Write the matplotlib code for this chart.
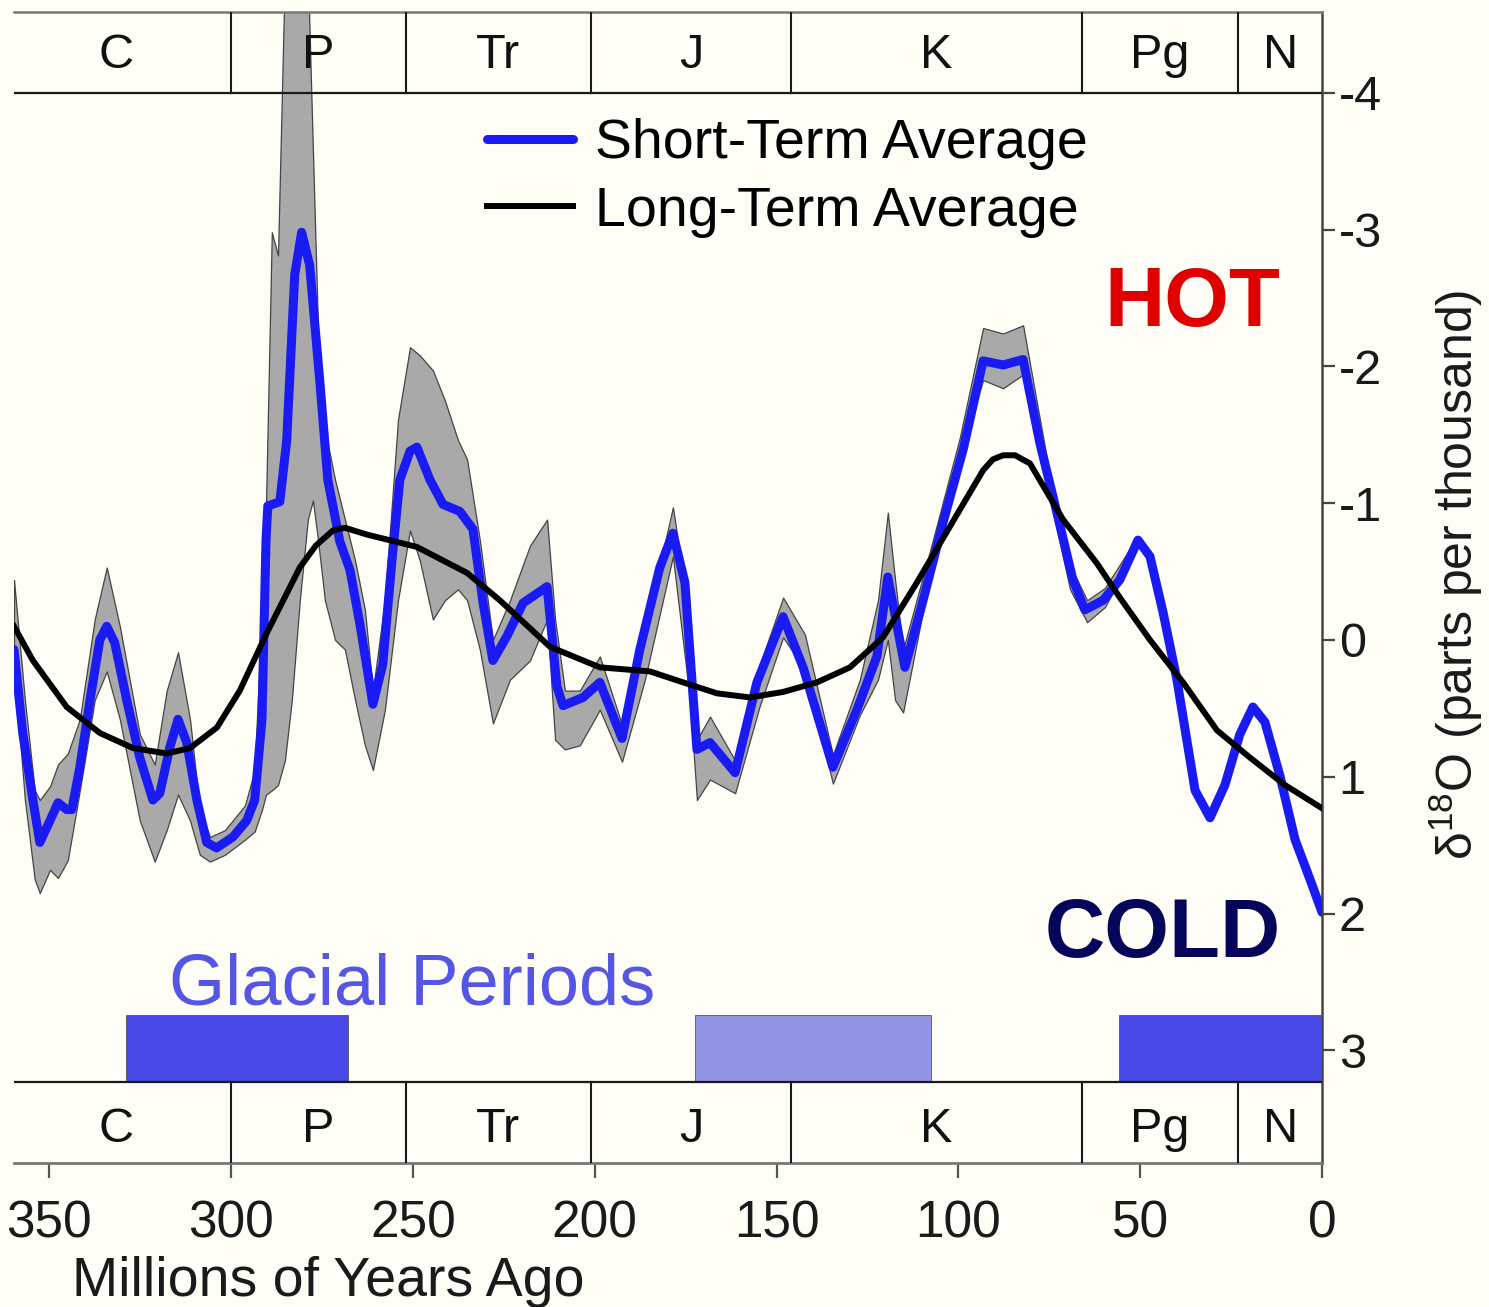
import numpy as np
import matplotlib.pyplot as plt

plt.rcParams['font.family'] = ['Liberation Sans', 'DejaVu Sans']

bg = '#fefef6'

# short-term average (Ma, d18O)
short_ma = [359.7, 357.3, 354.5, 352.6, 349.8, 347.6, 345.2, 343.8, 341.6, 338.8,
            336.1, 334.2, 332.0, 328.7, 325.1, 321.5, 319.6, 316.8, 314.6, 312.2,
            309.4, 306.7, 304.0, 299.5, 295.7, 293.5, 291.5, 290.4, 289.9, 286.6,
            284.7, 282.5, 280.6, 278.4, 275.6, 273.4, 270.1, 267.3, 264.6, 261.0,
            258.3, 255.8, 253.6, 250.8, 248.9, 245.3, 241.7, 237.1, 233.5, 230.7,
            228.0, 224.1, 219.7, 213.1, 210.4, 208.7, 203.2, 198.6, 192.5, 187.6,
            182.1, 178.5, 175.2, 171.9, 168.3, 161.4, 155.4, 148.2, 142.7, 134.5,
            127.9, 122.4, 119.4, 114.7, 109.7, 104.2, 98.7, 93.2, 87.7, 82.2,
            77.6, 72.9, 68.5, 65.2, 60.2, 55.6, 50.6, 47.3, 43.7, 39.9,
            34.9, 30.8, 26.7, 22.6, 19.0, 15.7, 11.6, 7.4, 3.3, 0.0]
short_val = [0.07, 0.68, 1.17, 1.48, 1.32, 1.19, 1.24, 1.24, 0.93, 0.44,
             0.00, -0.10, 0.02, 0.44, 0.86, 1.17, 1.12, 0.78, 0.58, 0.75,
             1.17, 1.48, 1.52, 1.44, 1.32, 1.17, 0.58, -0.73, -0.98, -1.01,
             -1.46, -2.67, -2.98, -2.74, -1.89, -1.17, -0.72, -0.51, -0.12, 0.47,
             0.18, -0.57, -1.17, -1.38, -1.41, -1.17, -0.99, -0.94, -0.81, -0.27,
             0.15, -0.03, -0.27, -0.39, 0.34, 0.48, 0.42, 0.31, 0.72, 0.07,
             -0.53, -0.78, -0.42, 0.80, 0.75, 0.97, 0.31, -0.17, 0.20, 0.93,
             0.51, 0.12, -0.46, 0.20, -0.29, -0.86, -1.39, -2.04, -2.01, -2.05,
             -1.44, -0.93, -0.44, -0.22, -0.29, -0.44, -0.73, -0.61, -0.20, 0.29,
             1.10, 1.30, 1.06, 0.69, 0.49, 0.60, 0.99, 1.46, 1.75, 1.99]

# uncertainty envelope around the short-term average
env_ma = [359.7, 356.7, 354.0, 352.6, 349.8, 347.6, 344.9, 341.6, 337.5, 334.2,
          330.6, 325.1, 321.0, 317.7, 314.6, 311.3, 308.6, 305.8, 301.7, 296.2,
          293.5, 291.5, 290.4, 288.8, 287.1, 285.2, 283.3, 281.1, 278.9, 277.5,
          276.1, 274.2, 271.4, 268.7, 265.9, 263.2, 261.0, 257.7, 254.1, 250.8,
          248.1, 244.5, 241.2, 237.6, 235.1, 231.6, 228.0, 223.3, 217.8, 213.1,
          210.9, 208.2, 204.1, 198.6, 192.5, 186.2, 178.5, 173.8, 171.9, 168.3,
          161.4, 154.6, 148.2, 142.2, 134.5, 127.1, 122.1, 119.4, 117.4, 115.2,
          107.0, 99.6, 93.2, 87.7, 82.2, 74.8, 69.3, 64.6, 59.7, 50.6]
env_hi = [-0.44, 0.44, 1.10, 1.17, 1.07, 0.91, 0.83, 0.58, -0.15, -0.53,
          -0.10, 0.69, 0.91, 0.37, 0.09, 0.58, 1.24, 1.44, 1.39, 1.21,
          0.95, -0.29, -0.99, -2.98, -2.81, -4.9, -5.0, -5.0, -4.9, -3.58,
          -2.27, -1.54, -1.17, -0.88, -0.58, -0.22, 0.37, -0.29, -1.61, -2.14,
          -2.08, -1.97, -1.75, -1.46, -1.32, -0.73, 0.00, -0.29, -0.69, -0.88,
          -0.15, 0.37, 0.37, 0.12, 0.62, -0.07, -0.97, -0.15, 0.73, 0.56,
          0.88, 0.18, -0.31, -0.04, 0.84, 0.29, -0.29, -0.93, -0.44, 0.07,
          -0.73, -1.48, -2.28, -2.24, -2.30, -1.20, -0.55, -0.29, -0.38, -0.76]
env_lo = [0.18, 1.17, 1.75, 1.85, 1.68, 1.74, 1.61, 1.10, 0.44, 0.23,
          0.58, 1.32, 1.62, 1.39, 1.13, 1.32, 1.57, 1.62, 1.57, 1.46,
          1.40, 1.24, 1.13, 1.10, 1.06, 0.88, 0.44, -0.29, -0.88, -1.02,
          -0.73, -0.29, 0.00, 0.07, 0.44, 0.77, 0.95, 0.51, -0.29, -0.80,
          -0.58, -0.15, -0.29, -0.37, -0.29, 0.07, 0.61, 0.29, 0.15, -0.15,
          0.73, 0.80, 0.77, 0.51, 0.89, 0.29, -0.61, 0.44, 1.17, 1.02,
          1.12, 0.48, -0.02, 0.22, 1.05, 0.55, 0.29, 0.00, 0.44, 0.53,
          -0.58, -1.35, -1.90, -1.84, -1.94, -1.04, -0.37, -0.13, -0.24, -0.69]

# long-term average
long_ma = [359.7, 354.5, 345.2, 336.1, 327.0, 317.7, 311.3, 303.9, 297.6, 290.2,
           281.1, 276.7, 272.0, 268.7, 262.6, 248.9, 235.1, 226.1, 212.3, 198.6,
           184.8, 175.7, 166.4, 157.3, 148.2, 138.9, 129.8, 120.7, 111.4, 102.3,
           93.2, 90.5, 87.7, 84.4, 80.3, 71.2, 61.9, 55.6, 47.3, 38.2,
           28.9, 19.8, 10.2, 0.0]
long_val = [-0.10, 0.15, 0.49, 0.68, 0.79, 0.83, 0.79, 0.64, 0.37, -0.05,
            -0.53, -0.69, -0.80, -0.82, -0.77, -0.68, -0.49, -0.29, 0.05, 0.20,
            0.23, 0.31, 0.39, 0.42, 0.38, 0.31, 0.20, -0.02, -0.42, -0.83,
            -1.24, -1.32, -1.35, -1.35, -1.29, -0.88, -0.56, -0.31, 0.00, 0.31,
            0.66, 0.86, 1.06, 1.23]

periods = ['C', 'P', 'Tr', 'J', 'K', 'Pg', 'N']
period_edges = [363, 300, 252, 201, 146, 66, 23, 0]

glacial_start = [328.9, 172.4, 55.8]
glacial_end = [267.9, 107.5, 0.0]
glacial_colors = ['#4848e6', '#9494e4', '#4848e6']

x_ticks = [350, 300, 250, 200, 150, 100, 50, 0]
y_ticks = [-4, -3, -2, -1, 0, 1, 2, 3]

fig = plt.figure(figsize=(14.89, 13.07), dpi=100, facecolor=bg)
ax = fig.add_axes([14 / 1489, 1 - 1163 / 1307, 1308 / 1489, 1151 / 1307])
ax.set_facecolor(bg)
ax.set_xlim(359.7, 0)
ax.set_ylim(3.823, -4.59)

# gray envelope, then the two curves
ax.fill_between(env_ma, env_hi, env_lo, facecolor='#a9a9a9', edgecolor='#444444',
                linewidth=0.9, zorder=2)
h1, = ax.plot(short_ma, short_val, color='#1a1af4', lw=6.5, zorder=3,
              solid_joinstyle='round', solid_capstyle='round',
              label='Short-Term Average')
h2, = ax.plot(long_ma, long_val, color='black', lw=4.3, zorder=4,
              solid_joinstyle='round', label='Long-Term Average')

# glacial periods
ax.bar(x=glacial_end, height=0.49,
       width=np.array(glacial_start) - np.array(glacial_end), bottom=2.741,
       align='edge', color=glacial_colors, edgecolor='#555555',
       linewidth=0.6, zorder=3)

# period bands at top and bottom
for y0, y1, yt in [(-4.59, -4.0, -4.27), (3.23, 3.823, 3.58)]:
    ax.axhline(y0 if y0 > 0 else y1, color='#1a1a1a', lw=1.6, zorder=6)
    for e in period_edges[1:-1]:
        ax.plot([e, e], [y0, y1], color='#1a1a1a', lw=1.5, zorder=6)
    for i, name in enumerate(periods):
        xc = (period_edges[i] + period_edges[i + 1]) / 2
        ax.text(xc, yt, name, ha='center', va='center', fontsize=35,
                color='#111111', zorder=7)

ax.text(35.75, -2.295, 'HOT', color='#e10000', fontsize=60, fontweight='bold',
        ha='center', va='baseline', zorder=7)
ax.text(43.7, 2.317, 'COLD', color='#05055a', fontsize=60, fontweight='bold',
        ha='center', va='baseline', zorder=7)
ax.text(250.3, 2.668, 'Glacial Periods', color='#5656e4', fontsize=52,
        ha='center', va='baseline', zorder=7)

ax.legend(handles=[h1, h2], loc='upper left',
          bbox_to_anchor=((487 - 14) / 1308, (1163 - 118) / 1151),
          frameon=False, fontsize=40, handlelength=1.55, handletextpad=0.4,
          labelspacing=0.28, borderpad=0, borderaxespad=0)

# axes
ax.spines['left'].set_visible(False)
ax.spines['top'].set_color('#777777')
ax.spines['top'].set_linewidth(1.8)
ax.spines['bottom'].set_color('#777777')
ax.spines['bottom'].set_linewidth(2.0)
ax.spines['right'].set_color('#444444')
ax.spines['right'].set_linewidth(1.8)

ax.set_xticks(x_ticks)
ax.set_xticklabels([str(v) for v in x_ticks])
ax.yaxis.tick_right()
ax.set_yticks(y_ticks)
ax.set_yticklabels([str(v) for v in y_ticks])
ax.tick_params(axis='x', direction='out', length=11, width=1.6, labelsize=37,
               pad=15, color='#555555', labelcolor='#1a1a1a')
ax.tick_params(axis='y', direction='out', length=9, width=1.6, labelsize=35,
               pad=3, color='#444444', labelcolor='#1a1a1a')

ax.set_xlabel('Millions of Years Ago', fontsize=40, color='#1a1a1a')
ax.xaxis.set_label_coords((328 - 14) / 1308, -0.081)
ax.yaxis.set_label_position('right')
ax.set_ylabel(r'$\mathregular{δ^{18}O}$ (parts per thousand)', fontsize=36,
              color='#1a1a1a')
ax.yaxis.set_label_coords(1.08, 0.511)

fig.savefig('out.png', dpi=100, facecolor=bg)
